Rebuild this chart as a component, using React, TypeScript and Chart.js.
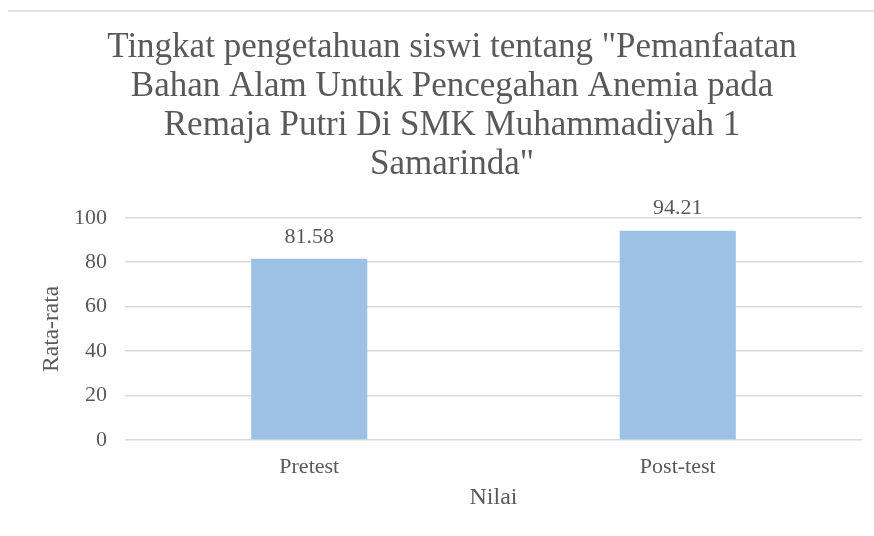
import React, { useEffect, useRef } from "react";
import { Chart, registerables } from "chart.js";

Chart.register(...registerables);

const categories = ["Pretest", "Post-test"];
const values = [81.58, 94.21];
const valueLabels = ["81.58", "94.21"];
const titleLines = [
  'Tingkat pengetahuan siswi tentang "Pemanfaatan',
  "Bahan Alam Untuk Pencegahan Anemia pada",
  "Remaja Putri Di SMK Muhammadiyah 1",
  'Samarinda"',
];
const yTitle = "Rata-rata";
const xTitle = "Nilai";

const FONT = "'Liberation Serif', Tinos, 'Times New Roman', serif";
const TEXT = "#595959";

const dataLabelPlugin = {
  id: "dataLabels",
  afterDatasetsDraw(chart: any) {
    const { ctx } = chart;
    const meta = chart.getDatasetMeta(0);
    ctx.save();
    ctx.font = `22px ${FONT}`;
    ctx.fillStyle = TEXT;
    ctx.textAlign = "center";
    ctx.textBaseline = "middle";
    meta.data.forEach((bar: any, i: number) => {
      ctx.fillText(valueLabels[i], bar.x, bar.y - 22);
    });
    ctx.restore();
  },
};

export default function App() {
  const ref = useRef<HTMLCanvasElement>(null);

  useEffect(() => {
    document.body.style.margin = "0";
    let chart: Chart | null = null;
    let cancelled = false;
    const make = () => {
      if (cancelled || !ref.current) return;
      chart = new Chart(ref.current, {
        type: "bar",
        data: {
          labels: categories,
          datasets: [
            {
              data: values,
              backgroundColor: "#9DC1E5",
              borderWidth: 0,
              barPercentage: 0.315,
              categoryPercentage: 1,
            },
          ],
        },
        options: {
          animation: false,
          responsive: false,
          layout: { padding: { left: 42, right: 12, top: 0, bottom: 23.6 } },
          plugins: {
            legend: { display: false },
            tooltip: { enabled: false },
            title: {
              display: true,
              text: titleLines,
              color: TEXT,
              font: { family: FONT, size: 35, weight: "normal", lineHeight: 1.12 },
              padding: { top: 28, bottom: 33 },
            },
          },
          scales: {
            x: {
              grid: { display: false, drawTicks: false },
              border: { display: false },
              ticks: {
                color: TEXT,
                font: { family: FONT, size: 22 },
                padding: 14,
              },
              title: {
                display: true,
                text: xTitle,
                color: TEXT,
                font: { family: FONT, size: 24 },
                padding: { top: -10.8, bottom: 0 },
              },
            },
            y: {
              min: 0,
              max: 100,
              grid: { color: "#D9D9D9", lineWidth: 1.5, drawTicks: false },
              border: { display: false },
              ticks: {
                stepSize: 20,
                color: TEXT,
                font: { family: FONT, size: 22 },
                padding: 18,
              },
              title: {
                display: true,
                text: yTitle,
                color: TEXT,
                font: { family: FONT, size: 23.5 },
                padding: { top: -4.1, bottom: -10.1 },
              },
            },
          },
        },
        plugins: [dataLabelPlugin],
      });
    };
    const fonts: any = (document as any).fonts;
    if (fonts && fonts.load) {
      Promise.all([
        fonts.load(`35px 'Liberation Serif'`),
        fonts.load(`22px 'Liberation Serif'`),
      ])
        .catch(() => null)
        .then(make);
    } else {
      make();
    }
    return () => {
      cancelled = true;
      if (chart) chart.destroy();
    };
  }, []);

  return (
    <div style={{ position: "relative", width: 874, height: 536, background: "#fff" }}>
      <div
        style={{
          position: "absolute",
          left: 8,
          right: 0,
          top: 10,
          height: 2,
          background: "#E3E3E3",
        }}
      />
      <canvas ref={ref} width={874} height={536} style={{ display: "block" }} />
    </div>
  );
}
